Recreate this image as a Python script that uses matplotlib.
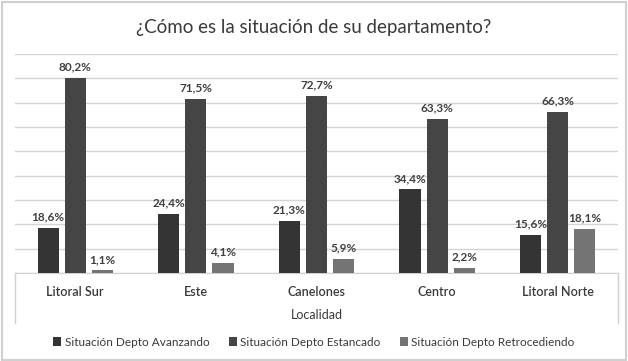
import numpy as np
import matplotlib.pyplot as plt
from matplotlib.lines import Line2D

plt.rcParams['font.family'] = ['Lato', 'DejaVu Sans']

categories = ['Litoral Sur', 'Este', 'Canelones', 'Centro', 'Litoral Norte']
series_names = ['Situación Depto Avanzando', 'Situación Depto Estancado',
                'Situación Depto Retrocediendo']
avanzando = [18.6, 24.4, 21.3, 34.4, 15.6]
estancado = [80.2, 71.5, 72.7, 63.3, 66.3]
retrocediendo = [1.1, 4.1, 5.9, 2.2, 18.1]
colors = ['#343434', '#454545', '#747474']

fig = plt.figure(figsize=(6.28, 3.61), dpi=100)
ax = fig.add_axes([15 / 628, 1 - 273 / 361, 603 / 628, 219 / 361])

x = np.arange(len(categories))
width = 0.175
offsets = [-0.225, 0, 0.225]
for vals, name, col, off in zip([avanzando, estancado, retrocediendo],
                                series_names, colors, offsets):
    bars = ax.bar(x + off, vals, width, color=col, label=name, zorder=3)
    for b, v in zip(bars, vals):
        ax.text(b.get_x() + b.get_width() / 2, v + 2.2, f'{v:.1f}%'.replace('.', ','),
                ha='center', va='bottom', fontsize=8.5, fontweight='bold', color='#404040')

ax.set_xlim(-0.5, len(categories) - 0.5)
ax.set_ylim(0, 90)
ax.set_yticks(np.arange(0, 91, 10))
ax.yaxis.grid(True, color='#d4d4d4', linewidth=1, zorder=0)
ax.tick_params(axis='y', left=False, labelleft=False)
ax.tick_params(axis='x', bottom=False, pad=6)
ax.set_xticks(x)
ax.set_xticklabels(categories, fontsize=9, fontweight='semibold', color='#3a3a3a')
for s in ['top', 'right', 'left']:
    ax.spines[s].set_visible(False)
ax.spines['bottom'].set_color('#d0d0d0')
ax.set_xlabel('Localidad', fontsize=9, color='#3a3a3a', labelpad=8)

# category axis box lines
fig.add_artist(Line2D([15 / 628, 15 / 628], [1 - 273 / 361, 1 - 323 / 361], color='#d0d0d0', lw=1))
fig.add_artist(Line2D([618 / 628, 618 / 628], [1 - 273 / 361, 1 - 323 / 361], color='#d0d0d0', lw=1))
# outer frame
fig.add_artist(plt.Rectangle((0.003, 0.003), 0.994, 0.992, transform=fig.transFigure,
                             fill=False, edgecolor='#d0d0d0', lw=1.5))

fig.text(0.5, 1 - 28 / 361, '¿Cómo es la situación de su departamento?',
         ha='center', va='center', fontsize=13.5, color='#3a3a3a')

fig.legend(loc='center', bbox_to_anchor=(0.5, 1 - 342 / 361), ncol=3, frameon=False,
           fontsize=8.5, handlelength=0.7, handleheight=0.7, handletextpad=0.3,
           columnspacing=1.6, labelcolor='#3a3a3a')

fig.savefig('out.png', dpi=100)
